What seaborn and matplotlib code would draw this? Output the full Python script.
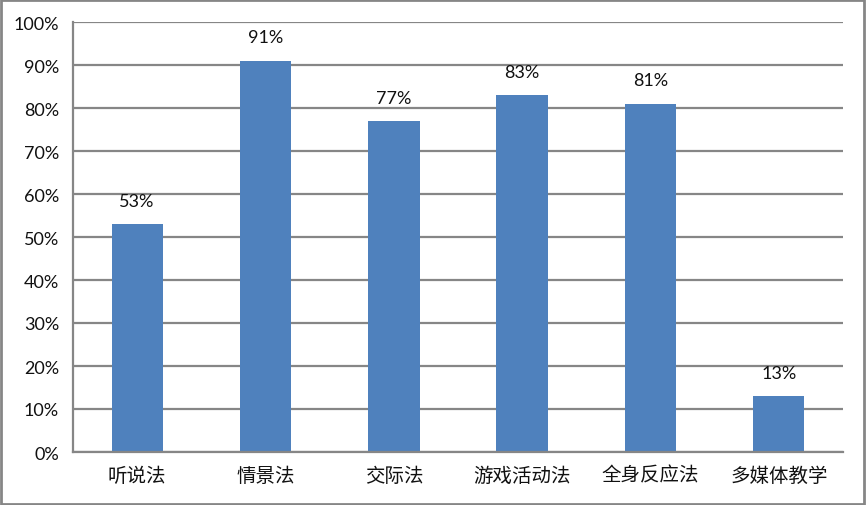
import matplotlib
matplotlib.use("Agg")
import matplotlib.pyplot as plt
import seaborn as sns
import pandas as pd
from matplotlib.patches import Rectangle
from matplotlib.ticker import FuncFormatter, FixedLocator

methods = ["听说法", "情景法", "交际法", "游戏活动法", "全身反应法", "多媒体教学"]
shares = [53, 91, 77, 83, 81, 13]
y_ticks = list(range(0, 101, 10))

df = pd.DataFrame({"method": methods, "share": shares})

sns.set_style("white")
plt.rcParams["font.family"] = ["Lato", "Noto Sans CJK SC", "DejaVu Sans"]

grey = "#868686"
fig = plt.figure(figsize=(8.66, 5.06), dpi=100)
ax = fig.add_axes([73 / 866, 1 - 453 / 506, (843 - 73) / 866, (453 - 23) / 506])

sns.barplot(data=df, x="method", y="share", color="#4F81BD", width=0.4,
            saturation=1, linewidth=0, ax=ax, zorder=3)

ax.set_ylim(0, 100)
ax.set_xlim(-0.5, len(methods) - 0.5)
ax.set_yticks(y_ticks)
ax.yaxis.set_major_formatter(FuncFormatter(lambda v, p: f"{v:.0f}%"))
ax.grid(axis="y", color=grey, linewidth=1.6, zorder=0)
ax.set_axisbelow(True)

for s in ["top", "right"]:
    ax.spines[s].set_visible(False)
for s in ["left", "bottom"]:
    ax.spines[s].set_color(grey)
    ax.spines[s].set_linewidth(1.6)
    ax.spines[s].set_zorder(4)

ax.tick_params(axis="y", length=5, width=1.6, color=grey, pad=5, labelsize=13, labelcolor="#111111")
ax.tick_params(axis="x", which="major", length=0, pad=9, labelsize=14, labelcolor="#111111")
ax.xaxis.set_minor_locator(FixedLocator([i - 0.5 for i in range(len(methods) + 1)]))
ax.tick_params(axis="x", which="minor", length=7, width=1.6, color=grey)
for lbl in ax.get_xticklabels():
    lbl.set_family(["Noto Sans CJK SC", "DejaVu Sans"])

ax.bar_label(ax.containers[0], labels=[f"{v}%" for v in shares], padding=11,
             fontsize=13, color="#111111")

ax.set_xlabel("")
ax.set_ylabel("")

fig.patches.append(Rectangle((0.001, 0.002), 0.997, 0.996, transform=fig.transFigure,
                             fill=False, edgecolor=grey, linewidth=2))

fig.savefig("out.png", dpi=100)
